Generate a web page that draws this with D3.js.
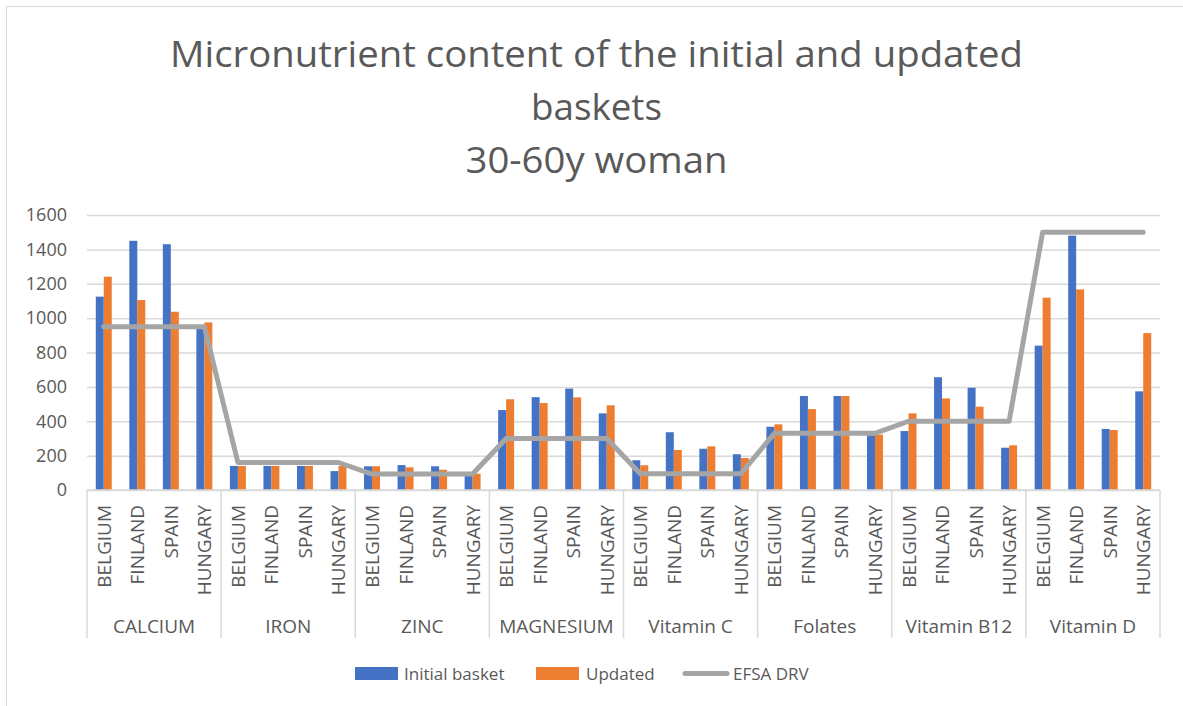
<!DOCTYPE html>
<html>
<head>
<meta charset="utf-8">
<script src="https://cdn.jsdelivr.net/npm/d3@7"></script>
<style>
  body { margin: 0; background: #fff; }
  text { font-family: "Open Sans", sans-serif; fill: #595959; }
</style>
</head>
<body>
<div id="chart"></div>
<script>
// nutrients (outer categories) and countries (inner categories)
const nutrients = ['CALCIUM', 'IRON', 'ZINC', 'MAGNESIUM', 'Vitamin C', 'Folates', 'Vitamin B12', 'Vitamin D'];
const countries = ['BELGIUM', 'FINLAND', 'SPAIN', 'HUNGARY'];

// values per nutrient, in the order of countries
const initialBasket = [
    [1125, 1450, 1430, 940],
    [140, 140, 140, 110],
    [138, 145, 138, 85],
    [465, 540, 590, 446],
    [173, 336, 240, 208],
    [368, 547, 547, 318],
    [343, 656, 595, 246],
    [840, 1480, 355, 574]
];
const updatedBasket = [
    [1241, 1105, 1037, 975],
    [140, 140, 140, 140],
    [138, 132, 118, 95],
    [528, 506, 539, 493],
    [144, 233, 254, 186],
    [382, 471, 547, 322],
    [446, 533, 485, 260],
    [1119, 1167, 349, 913]
];
const efsaDrv = [950, 160, 93, 300, 95, 330, 400, 1500];

const yTicks = [0, 200, 400, 600, 800, 1000, 1200, 1400, 1600];
const titleLines = ['Micronutrient content of the initial and updated', 'baskets', '30-60y woman'];
const seriesNames = ['Initial basket', 'Updated', 'EFSA DRV'];

const blue = '#4472c4', orange = '#ed7d31', grey = '#a5a5a5', gridColor = '#d9d9d9';

const svg = d3.select('#chart')
    .append('svg')
    .attr('width', 1183)
    .attr('height', 706);

// chart border (right/bottom fall outside the picture)
svg.append('rect')
    .attr('x', 6.5).attr('y', 6.5)
    .attr('width', 1200).attr('height', 720)
    .attr('fill', 'none')
    .attr('stroke', gridColor);

// title
const titleWidths = [853, 131, 262];
svg.append('g').selectAll('text')
    .data(titleLines)
    .join('text')
    .attr('x', 596.5)
    .attr('y', (d, i) => 67 + i * 53)
    .attr('text-anchor', 'middle')
    .attr('font-size', 37)
    .attr('textLength', (d, i) => titleWidths[i])
    .attr('lengthAdjust', 'spacingAndGlyphs')
    .text(d => d);

// scales
const xGroup = d3.scaleBand().domain(nutrients).range([87, 1160]);
const xCountry = d3.scaleBand().domain(countries).range([0, xGroup.bandwidth()]);
const xSeries = d3.scaleBand().domain(['initial', 'updated']).range([0, xCountry.bandwidth()]).paddingOuter(1.1);
const y = d3.scaleLinear().domain([0, 1600]).range([490, 215]);

const catCenter = (n, c) => xGroup(n) + xCountry(c) + xCountry.bandwidth() / 2;

// gridlines + y axis labels
const yAxis = d3.axisLeft(y).tickValues(yTicks).tickFormat(d3.format('d')).tickSize(-(1160 - 87)).tickPadding(20);
const yAxisGroup = svg.append('g')
    .attr('transform', 'translate(87,0)')
    .call(yAxis);
yAxisGroup.select('.domain').remove();
yAxisGroup.selectAll('.tick line').attr('stroke', gridColor).attr('stroke-width', 1.5);
yAxisGroup.selectAll('.tick text')
    .attr('font-size', 18)
    .attr('font-family', '"Open Sans", sans-serif')
    .attr('fill', '#595959');

// bars
const rows = [];
nutrients.forEach((n, i) => {
    countries.forEach((c, j) => {
        rows.push({ n, c, key: 'initial', v: initialBasket[i][j] });
        rows.push({ n, c, key: 'updated', v: updatedBasket[i][j] });
    });
});
svg.append('g').selectAll('rect')
    .data(rows)
    .join('rect')
    .attr('x', d => xGroup(d.n) + xCountry(d.c) + xSeries(d.key))
    .attr('y', d => y(d.v))
    .attr('width', xSeries.bandwidth())
    .attr('height', d => y(0) - y(d.v))
    .attr('fill', d => d.key === 'initial' ? blue : orange);

// EFSA DRV line through every category centre
const linePts = [];
nutrients.forEach((n, i) => countries.forEach(c => linePts.push([catCenter(n, c), y(efsaDrv[i])])));
svg.append('path')
    .attr('d', d3.line()(linePts))
    .attr('fill', 'none')
    .attr('stroke', grey)
    .attr('stroke-width', 5)
    .attr('stroke-linejoin', 'round')
    .attr('stroke-linecap', 'round');

// x axis: baseline, group separators, labels
svg.append('line')
    .attr('x1', 87).attr('x2', 1160)
    .attr('y1', y(0)).attr('y2', y(0))
    .attr('stroke', gridColor).attr('stroke-width', 1.5);

const bounds = nutrients.map(n => xGroup(n)).concat([xGroup(nutrients[nutrients.length - 1]) + xGroup.bandwidth()]);
svg.append('g').selectAll('line')
    .data(bounds)
    .join('line')
    .attr('x1', d => d).attr('x2', d => d)
    .attr('y1', y(0)).attr('y2', 638)
    .attr('stroke', gridColor).attr('stroke-width', 1.5);

const catLabels = [];
nutrients.forEach(n => countries.forEach(c => catLabels.push({ n, c })));
svg.append('g').selectAll('text')
    .data(catLabels)
    .join('text')
    .attr('transform', d => `translate(${catCenter(d.n, d.c)},505) rotate(-90)`)
    .attr('text-anchor', 'end')
    .attr('dominant-baseline', 'central')
    .attr('font-size', 19)
    .text(d => d.c);

svg.append('g').selectAll('text')
    .data(nutrients)
    .join('text')
    .attr('x', d => xGroup(d) + xGroup.bandwidth() / 2)
    .attr('y', 626)
    .attr('text-anchor', 'middle')
    .attr('dominant-baseline', 'central')
    .attr('font-size', 19)
    .text(d => d);

// legend
const legend = svg.append('g');
const legendX = [355, 536, 683];
legend.append('rect').attr('x', legendX[0]).attr('y', 667).attr('width', 43).attr('height', 13).attr('fill', blue);
legend.append('rect').attr('x', legendX[1]).attr('y', 667).attr('width', 43).attr('height', 13).attr('fill', orange);
legend.append('line')
    .attr('x1', legendX[2] + 2).attr('x2', legendX[2] + 44)
    .attr('y1', 673.5).attr('y2', 673.5)
    .attr('stroke', grey).attr('stroke-width', 5).attr('stroke-linecap', 'round');
legend.selectAll('text')
    .data(seriesNames)
    .join('text')
    .attr('x', (d, i) => [404, 586, 733][i])
    .attr('y', 673.5)
    .attr('dominant-baseline', 'central')
    .attr('font-size', 17)
    .text(d => d);
</script>
</body>
</html>
